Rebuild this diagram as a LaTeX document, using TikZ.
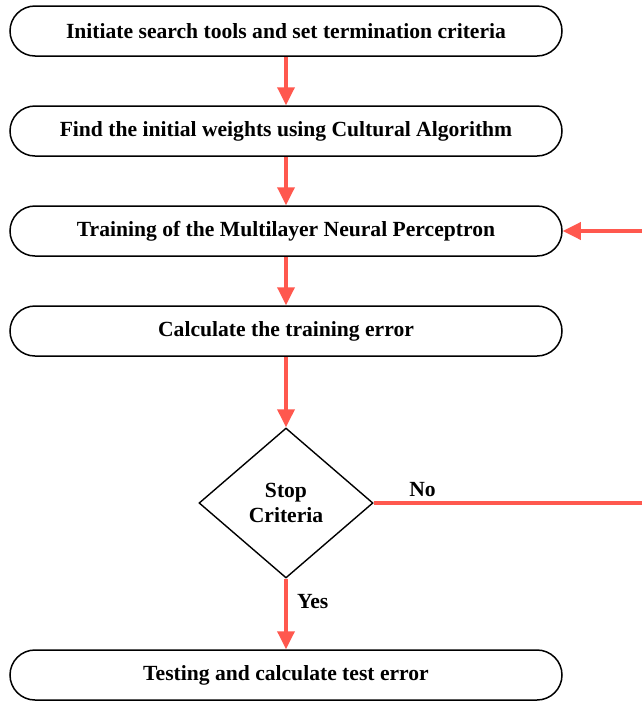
\documentclass[tikz,border=0pt]{standalone}
\usepackage{fontspec}
\setmainfont{Liberation Serif}
\usetikzlibrary{arrows.meta,shapes.geometric}
\definecolor{flowred}{RGB}{255,88,78}
\tikzset{
  stepbox/.style={draw, line width=1.5pt, rounded corners=25pt, minimum width=552pt,
    minimum height=50pt, inner sep=0pt, font=\fontsize{21.6}{24}\selectfont\bfseries},
  decide/.style={draw, diamond, line width=1.4pt, minimum width=174pt, minimum height=150pt,
    inner sep=0pt, align=center, font=\fontsize{21.6}{25}\selectfont\bfseries},
  flow/.style={draw=flowred, line width=3.5pt, -{Triangle[length=18pt,width=17pt]}},
  lbl/.style={font=\fontsize{21.6}{24}\selectfont\bfseries}
}
\begin{document}
\begin{tikzpicture}[x=1pt, y=-1pt]
  \useasboundingbox (0,0) rectangle (642,702);
  \node[stepbox] (init)  at (286,31)  {Initiate search tools and set termination criteria};
  \node[stepbox] (cult)  at (286,131) {Find the initial weights using Cultural Algorithm};
  \node[stepbox] (train) at (286,231) {Training of the Multilayer Neural Perceptron};
  \node[stepbox] (err)   at (286,331) {Calculate the training error};
  \node[decide]  (stop)  at (286,503) {Stop\\Criteria};
  \node[stepbox] (test)  at (286,675) {Testing and calculate test error};
  \coordinate (loopA) at (645,503);
  \coordinate (loopB) at (645,231);
  % main flow
  \draw[flow] (init) -- (cult);
  \draw[flow] (cult) -- (train);
  \draw[flow] (train) -- (err);
  \draw[flow] (err) -- (stop);
  \draw[flow] (stop) -- node[lbl, right=6pt, pos=0.33] {Yes} (test);
  % loop back
  \draw[flow] (stop.east) -- node[lbl, above=1pt, pos=0.18] {No} (loopA) -- (loopB) -- (train.east);
\end{tikzpicture}
\end{document}
